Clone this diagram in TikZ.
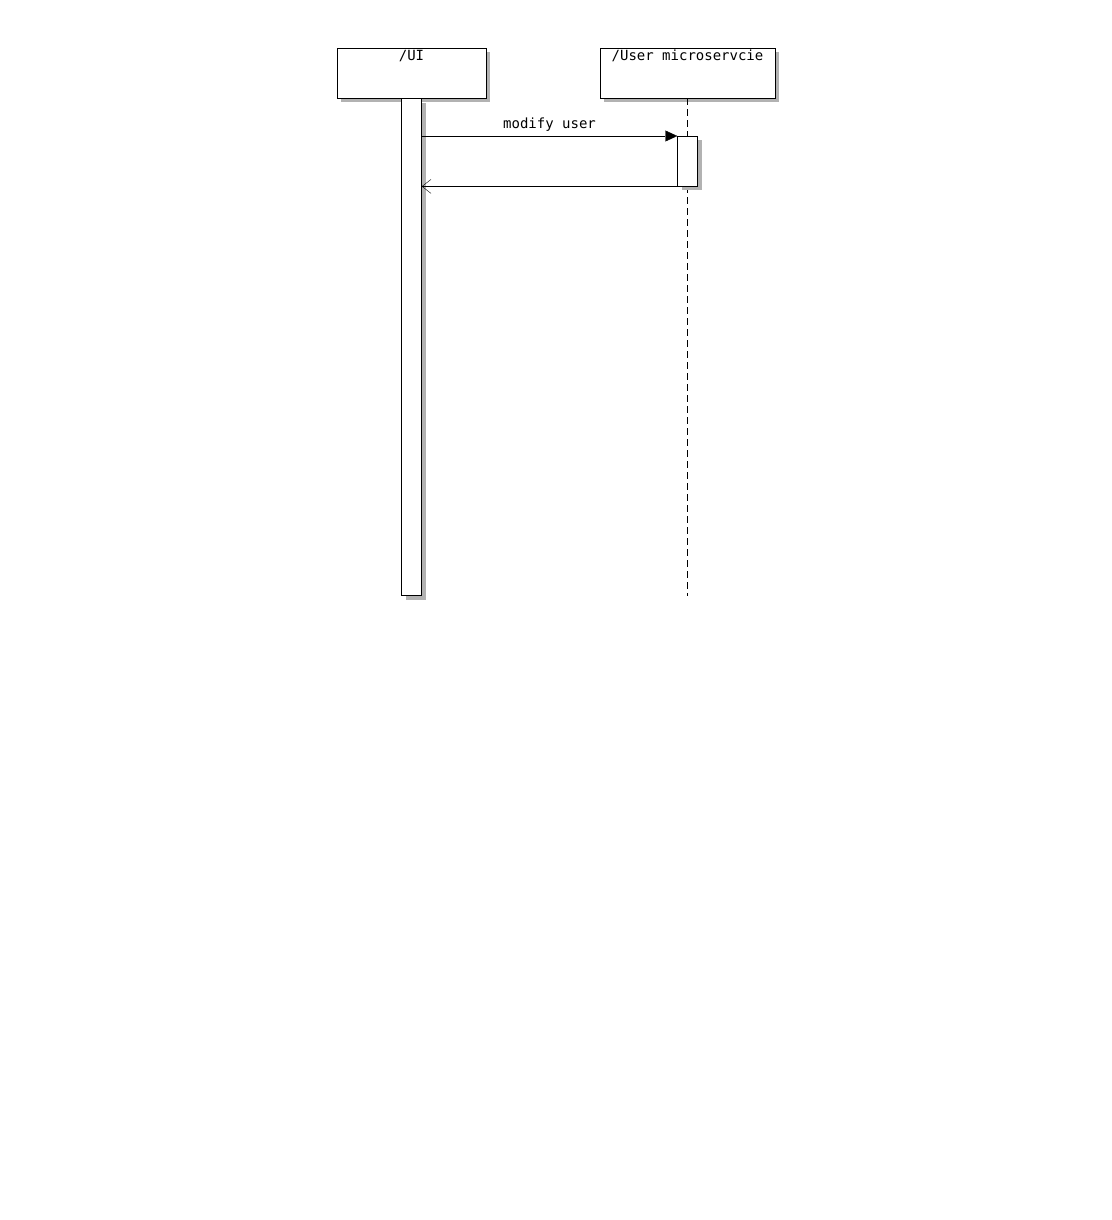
\documentclass[tikz,border=0pt]{standalone}
\usepackage{fontspec}
\setmonofont{DejaVu Sans Mono}
\usetikzlibrary{positioning,arrows.meta,shadows}

\begin{document}
\begin{tikzpicture}[
  x=1pt, y=-1pt,
  font=\ttfamily\fontsize{14}{15}\selectfont,
  shade/.style={drop shadow={shadow xshift=4pt, shadow yshift=-4pt, fill=black!30, opacity=1}},
  actor/.style={draw, fill=white, shade, inner sep=2pt, text height=10pt, text depth=36pt, anchor=north},
  activation/.style={draw, fill=white, shade, minimum width=20pt, inner sep=0pt, anchor=north},
  lifeline/.style={dashed, dash pattern=on 7pt off 4pt}
]
  \useasboundingbox (0,0) rectangle (1111,1220);
  \node[actor, minimum width=149pt] (ui) at (411.5,48) {/UI};
  \node[actor, minimum width=175pt] (usr) at (687.5,48) {/User microservcie};
  \node[activation, minimum height=497pt] (uiact) at (ui.south) {};
  \coordinate (usrend) at (usr.south |- uiact.south);
  \draw[lifeline] (usr.south) -- (usrend);
  \node[activation, minimum height=50pt] (usract) at (usr.south |- 0,136) {};
  \draw[-{Triangle[length=12pt, width=11pt]}] (uiact.east |- usract.north) -- node[above=1pt] (msg) {modify user} (usract.north west);
  \draw[-{Straight Barb[length=9pt, width=14pt]}] (usract.south west) -- (uiact.east |- usract.south);
\end{tikzpicture}
\end{document}
